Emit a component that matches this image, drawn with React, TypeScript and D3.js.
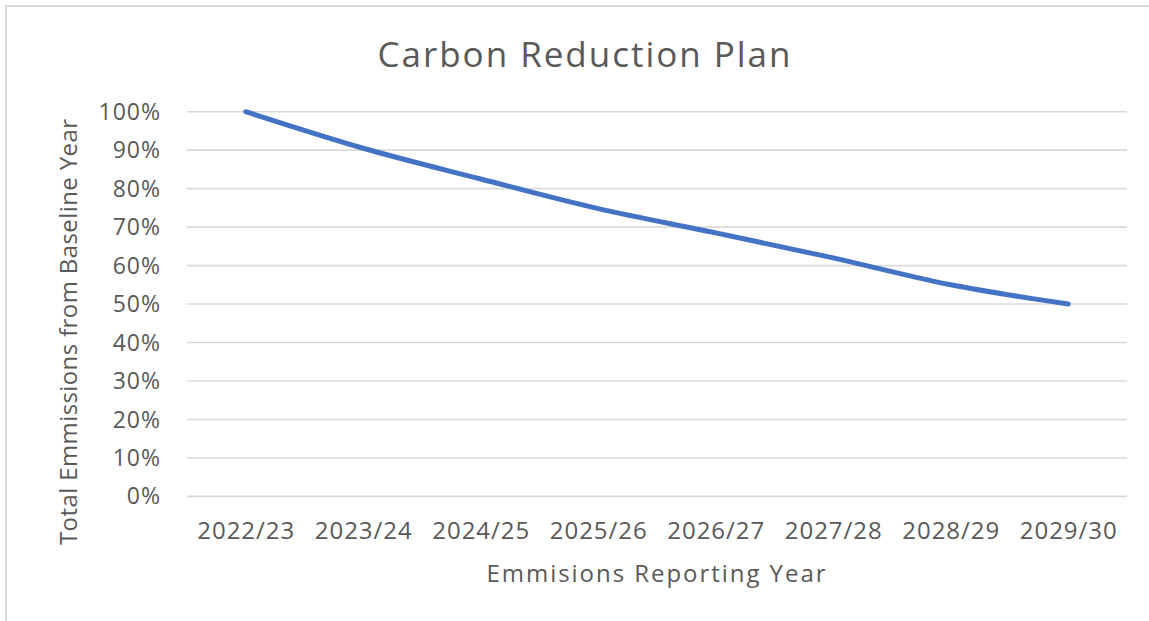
import React from "react";
import * as d3 from "d3";

const categories = ["2022/23", "2023/24", "2024/25", "2025/26", "2026/27", "2027/28", "2028/29", "2029/30"];
const values = [1.0, 0.905, 0.825, 0.748, 0.685, 0.62, 0.55, 0.5];
const yTicks = [0, 0.1, 0.2, 0.3, 0.4, 0.5, 0.6, 0.7, 0.8, 0.9, 1.0];
const title = "Carbon Reduction Plan";
const xTitle = "Emmisions Reporting Year";
const yTitle = "Total Emmissions from Baseline Year";

const W = 1149;
const H = 621;
const FONT = "'Open Sans', 'DejaVu Sans', sans-serif";
const TEXT = "#595959";

export default function App() {
  const x = d3.scaleBand<string>().domain(categories).range([187, 1127]);
  const y = d3.scaleLinear().domain([0, 1]).range([496.4, 111.7]);
  const line = d3
    .line<number>()
    .x((_, i) => (x(categories[i]) as number) + x.bandwidth() / 2)
    .y((d) => y(d))
    .curve(d3.curveCatmullRom.alpha(0.5));
  const fmt = d3.format(".0%");

  return (
    <div style={{ position: "fixed", left: 0, top: 0 }}>
      <svg width={W} height={H} style={{ display: "block", background: "#fff" }}>
        <rect x={6} y={6} width={W + 20} height={H + 20} fill="#fff" stroke="#d9d9d9" strokeWidth={2} />
        <text
          x={584}
          y={67}
          textAnchor="middle"
          fontFamily={FONT}
          fontSize={35}
          fill={TEXT}
          textLength={413}
          lengthAdjust="spacing"
        >
          {title}
        </text>
        {yTicks.map((t) => (
          <g key={t}>
            <line x1={187} x2={1127} y1={y(t)} y2={y(t)} stroke="#d9d9d9" strokeWidth={1.6} />
            <text
              x={161}
              y={y(t)}
              dy="0.35em"
              textAnchor="end"
              fontFamily={FONT}
              fontSize={23}
              fill={TEXT}
              letterSpacing={1}
            >
              {fmt(t)}
            </text>
          </g>
        ))}
        {categories.map((c) => (
          <text
            key={c}
            x={(x(c) as number) + x.bandwidth() / 2}
            y={539}
            textAnchor="middle"
            fontFamily={FONT}
            fontSize={24}
            fill={TEXT}
            textLength={97}
            lengthAdjust="spacing"
          >
            {c}
          </text>
        ))}
        <path d={line(values) || ""} fill="none" stroke="#4472C4" strokeWidth={5} strokeLinecap="round" strokeLinejoin="round" />
        <text
          x={656}
          y={582}
          textAnchor="middle"
          fontFamily={FONT}
          fontSize={24}
          fill={TEXT}
          textLength={339}
          lengthAdjust="spacing"
        >
          {xTitle}
        </text>
        <text
          transform={`translate(77, 332) rotate(-90)`}
          textAnchor="middle"
          fontFamily={FONT}
          fontSize={24}
          fill={TEXT}
          textLength={426}
          lengthAdjust="spacing"
        >
          {yTitle}
        </text>
      </svg>
    </div>
  );
}
